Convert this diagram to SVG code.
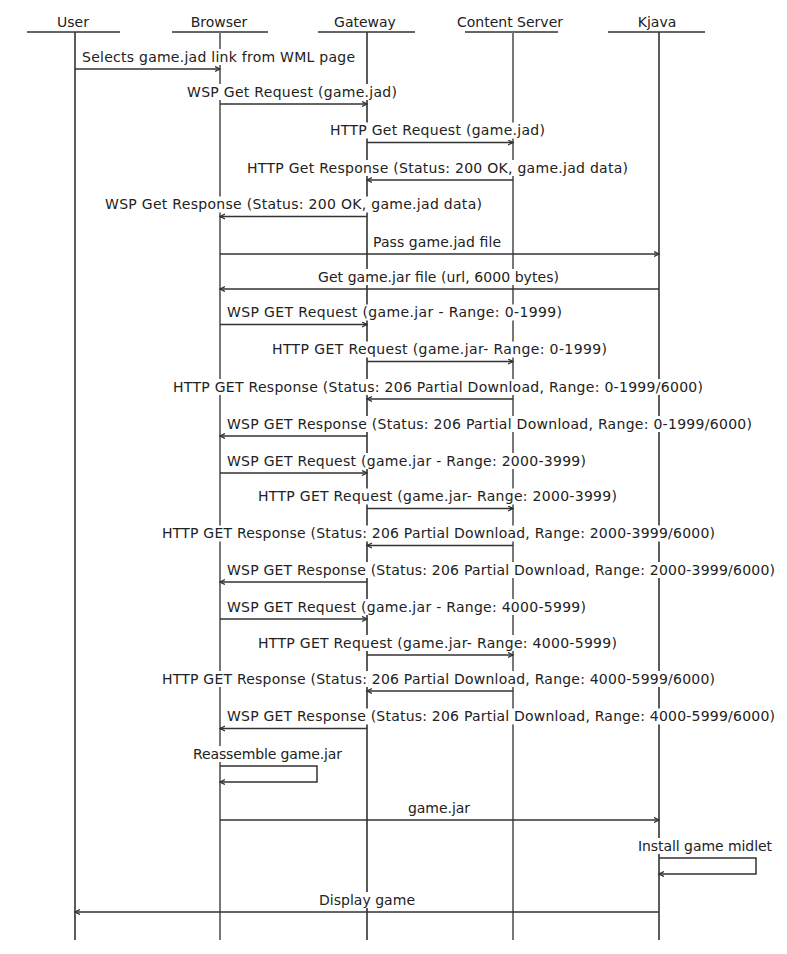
<svg xmlns="http://www.w3.org/2000/svg" width="787" height="954" viewBox="0 0 787 954">
<style>
  text { font-family: "DejaVu Sans", Verdana, sans-serif; font-size: 14px; fill: #222; }
  .head { text-anchor: middle; }
  .hl { stroke: #333; stroke-width: 1.6; }
  .life { stroke: #333; stroke-width: 1.6; fill: none; }
  .life.g { stroke: #777; stroke-width: 2; }
  .msg { stroke: #333; stroke-width: 1.5; fill: none; marker-end: url(#ah); }
  .bg { fill: #ffffff; }
</style>
<defs>
  <marker id="ah" markerWidth="8" markerHeight="8" refX="5" refY="3" orient="auto" markerUnits="userSpaceOnUse">
    <path d="M0,0.5 L5,3 L0,5.5" fill="none" stroke="#333" stroke-width="1.3"/>
  </marker>
</defs>
<rect x="0" y="0" width="787" height="954" fill="#ffffff"/>

<g id="user">
  <text class="head" x="73" y="26.5">User</text>
  <line class="hl" x1="27" y1="32" x2="120" y2="32"/>
  <line class="life" x1="75" y1="32" x2="75" y2="940"/>
</g>
<g id="browser">
  <text class="head" x="219" y="26.5">Browser</text>
  <line class="hl" x1="172" y1="32" x2="268" y2="32"/>
  <line class="life g" x1="220" y1="32" x2="220" y2="940"/>
</g>
<g id="gateway">
  <text class="head" x="365" y="26.5">Gateway</text>
  <line class="hl" x1="318" y1="32" x2="415" y2="32"/>
  <line class="life" x1="367" y1="32" x2="367" y2="940"/>
</g>
<g id="content-server">
  <text class="head" x="510" y="26.5">Content Server</text>
  <line class="hl" x1="465" y1="32" x2="558" y2="32"/>
  <line class="life g" x1="513" y1="32" x2="513" y2="940"/>
</g>
<g id="kjava">
  <text class="head" x="657" y="26.5">Kjava</text>
  <line class="hl" x1="608" y1="32" x2="705" y2="32"/>
  <line class="life" x1="659" y1="32" x2="659" y2="940"/>
</g>

<g id="connectors">
  <!-- 1 -->
  <rect class="bg" x="81" y="49" width="275" height="16"/>
  <line class="msg" x1="75" y1="69" x2="220" y2="69"/>
  <text x="82" y="61.5" textLength="273">Selects game.jad link from WML page</text>
  <!-- 2 -->
  <rect class="bg" x="186" y="84" width="212" height="16"/>
  <line class="msg" x1="220" y1="104" x2="367" y2="104"/>
  <text x="187" y="96.5" textLength="210">WSP Get Request (game.jad)</text>
  <!-- 3 -->
  <rect class="bg" x="329" y="122.5" width="217" height="16"/>
  <line class="msg" x1="367" y1="142.5" x2="513" y2="142.5"/>
  <text x="330" y="135" textLength="215">HTTP Get Request (game.jad)</text>
  <!-- 4 -->
  <rect class="bg" x="246" y="160" width="383" height="16"/>
  <line class="msg" x1="513" y1="180" x2="367" y2="180"/>
  <text x="247" y="172.5" textLength="381">HTTP Get Response (Status: 200 OK, game.jad data)</text>
  <!-- 5 -->
  <rect class="bg" x="104" y="196.5" width="379" height="16"/>
  <line class="msg" x1="367" y1="216.5" x2="220" y2="216.5"/>
  <text x="105" y="209" textLength="377">WSP Get Response (Status: 200 OK, game.jad data)</text>
  <!-- 6 -->
  <rect class="bg" x="372" y="234" width="130" height="16"/>
  <line class="msg" x1="220" y1="254" x2="659" y2="254"/>
  <text x="373" y="246.5" textLength="128">Pass game.jad file</text>
  <!-- 7 -->
  <rect class="bg" x="317" y="269" width="243" height="16"/>
  <line class="msg" x1="659" y1="289" x2="220" y2="289"/>
  <text x="318" y="281.5" textLength="241">Get game.jar file (url, 6000 bytes)</text>
  <!-- 8 -->
  <rect class="bg" x="226" y="304.5" width="337" height="16"/>
  <line class="msg" x1="220" y1="324.5" x2="367" y2="324.5"/>
  <text x="227" y="317" textLength="335">WSP GET Request (game.jar - Range: 0-1999)</text>
  <!-- 9 -->
  <rect class="bg" x="271" y="341.5" width="337" height="16"/>
  <line class="msg" x1="367" y1="361.5" x2="513" y2="361.5"/>
  <text x="272" y="354" textLength="335">HTTP GET Request (game.jar- Range: 0-1999)</text>
  <!-- 10 -->
  <rect class="bg" x="172" y="379" width="532" height="16"/>
  <line class="msg" x1="513" y1="399" x2="367" y2="399"/>
  <text x="173" y="391.5" textLength="530">HTTP GET Response (Status: 206 Partial Download, Range: 0-1999/6000)</text>
  <!-- 11 -->
  <rect class="bg" x="226" y="416" width="527" height="16"/>
  <line class="msg" x1="367" y1="436" x2="220" y2="436"/>
  <text x="227" y="428.5" textLength="525">WSP GET Response (Status: 206 Partial Download, Range: 0-1999/6000)</text>
  <!-- 12 -->
  <rect class="bg" x="226" y="453" width="361" height="16"/>
  <line class="msg" x1="220" y1="473" x2="367" y2="473"/>
  <text x="227" y="465.5" textLength="359">WSP GET Request (game.jar - Range: 2000-3999)</text>
  <!-- 13 -->
  <rect class="bg" x="257" y="488.5" width="361" height="16"/>
  <line class="msg" x1="367" y1="508.5" x2="513" y2="508.5"/>
  <text x="258" y="501" textLength="359">HTTP GET Request (game.jar- Range: 2000-3999)</text>
  <!-- 14 -->
  <rect class="bg" x="161" y="525.5" width="555" height="16"/>
  <line class="msg" x1="513" y1="545.5" x2="367" y2="545.5"/>
  <text x="162" y="538" textLength="553">HTTP GET Response (Status: 206 Partial Download, Range: 2000-3999/6000)</text>
  <!-- 15 -->
  <rect class="bg" x="226" y="562" width="550" height="16"/>
  <line class="msg" x1="367" y1="582" x2="220" y2="582"/>
  <text x="227" y="574.5" textLength="548">WSP GET Response (Status: 206 Partial Download, Range: 2000-3999/6000)</text>
  <!-- 16 -->
  <rect class="bg" x="226" y="599" width="361" height="16"/>
  <line class="msg" x1="220" y1="619" x2="367" y2="619"/>
  <text x="227" y="611.5" textLength="359">WSP GET Request (game.jar - Range: 4000-5999)</text>
  <!-- 17 -->
  <rect class="bg" x="257" y="635" width="361" height="16"/>
  <line class="msg" x1="367" y1="655" x2="513" y2="655"/>
  <text x="258" y="647.5" textLength="359">HTTP GET Request (game.jar- Range: 4000-5999)</text>
  <!-- 18 -->
  <rect class="bg" x="161" y="671" width="555" height="16"/>
  <line class="msg" x1="513" y1="691" x2="367" y2="691"/>
  <text x="162" y="683.5" textLength="553">HTTP GET Response (Status: 206 Partial Download, Range: 4000-5999/6000)</text>
  <!-- 19 -->
  <rect class="bg" x="226" y="708.5" width="550" height="16"/>
  <line class="msg" x1="367" y1="728.5" x2="220" y2="728.5"/>
  <text x="227" y="721" textLength="548">WSP GET Response (Status: 206 Partial Download, Range: 4000-5999/6000)</text>
  <!-- 20 self -->
  <rect class="bg" x="192" y="746" width="151" height="16"/>
  <path class="msg" d="M220,766 H317 V782 H220"/>
  <text x="193" y="759" textLength="149">Reassemble game.jar</text>
  <!-- 21 -->
  <rect class="bg" x="407" y="800" width="64" height="16"/>
  <line class="msg" x1="220" y1="820" x2="659" y2="820"/>
  <text x="408" y="812.5" textLength="62">game.jar</text>
  <!-- 22 self -->
  <rect class="bg" x="637" y="838" width="136" height="16"/>
  <path class="msg" d="M659,858 H756 V874 H659"/>
  <text x="638" y="851" textLength="134">Install game midlet</text>
  <!-- 23 -->
  <rect class="bg" x="318" y="892" width="98" height="16"/>
  <line class="msg" x1="659" y1="912" x2="75" y2="912"/>
  <text x="319" y="904.5" textLength="96">Display game</text>
</g>
</svg>
